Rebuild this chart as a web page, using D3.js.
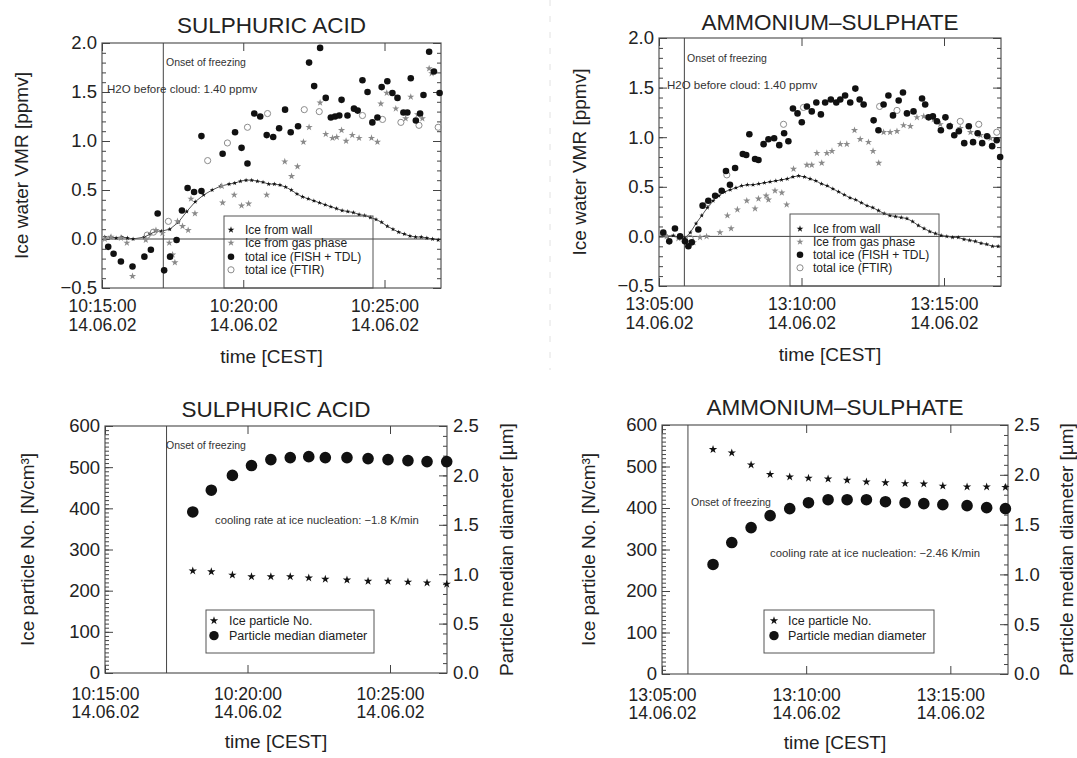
<!DOCTYPE html>
<html>
<head>
<meta charset="utf-8">
<script src="https://cdn.jsdelivr.net/npm/d3@7"></script>
<style>
  body { margin: 0; background: #fff; }
  svg text { font-family: "Liberation Sans", Arial, Helvetica, sans-serif; fill: #222; }
</style>
</head>
<body>
<svg id="chart" width="1077" height="758"></svg>
<script>
// ---------- data (times are minutes after the first axis tick) ----------

// sulphuric acid, ice water VMR
const saWallT = [0.1,0.3,0.5,0.7,0.9,1.1,1.5,1.7,1.9,2.1,2.4,2.7,3.0,3.3,3.6,3.9,4.2,4.5,4.7,4.9,5.1,5.3,5.5,5.7,5.9,6.1,6.3,6.5,6.7,6.9,7.1,7.3,7.5,7.7,7.9,8.1,8.3,8.5,8.7,8.9,9.1,9.3,9.5,9.7,9.9,10.1,10.3,10.5,10.7,10.9,11.1,11.3,11.5,11.7,11.9];
const saWallV = [0.02,0.02,0.01,0.02,0.01,0.00,0.02,0.05,0.08,0.08,0.10,0.17,0.28,0.38,0.45,0.50,0.54,0.56,0.57,0.59,0.60,0.60,0.59,0.58,0.56,0.56,0.55,0.53,0.50,0.46,0.43,0.41,0.39,0.37,0.35,0.33,0.31,0.29,0.28,0.27,0.25,0.24,0.22,0.20,0.17,0.13,0.10,0.07,0.05,0.03,0.02,0.02,0.01,0.00,-0.01];
const saGasT = [0.10,0.32,0.67,0.88,1.08,1.55,1.91,2.14,2.38,2.50,2.58,2.67,2.85,3.05,3.15,3.29,4.24,4.27,4.68,4.94,5.19,5.83,6.47,6.71,6.92,7.13,7.33,7.72,7.92,8.16,8.31,8.48,8.64,8.86,9.10,9.54,9.75,9.87,10.08,10.40,10.75,10.93,11.17,11.34,11.58,11.67];
const saGasV = [0.00,0.02,0.01,-0.04,-0.38,-0.01,0.09,0.06,-0.04,-0.16,-0.24,0.18,0.13,0.09,0.41,0.26,0.54,0.37,0.45,0.34,0.36,0.45,0.79,0.64,0.74,0.99,1.14,1.39,1.07,1.03,1.04,1.11,1.00,1.06,1.03,1.03,0.99,1.38,1.49,1.33,1.23,1.45,1.27,1.23,1.74,1.69];
const saTotalT = [0.22,0.41,0.67,1.08,1.50,1.73,1.97,2.20,2.41,2.64,2.83,3.03,3.26,3.52,3.52,4.27,4.71,4.94,5.15,5.39,5.60,5.83,6.06,6.27,6.48,6.68,6.94,7.33,7.51,7.72,7.92,8.10,8.25,8.40,8.48,8.69,8.92,9.05,9.22,9.40,9.57,9.75,9.90,10.10,10.28,10.46,10.67,10.81,10.93,11.11,11.26,11.38,11.58,11.75,11.95];
const saTotalV = [-0.08,-0.15,-0.23,-0.28,-0.18,-0.11,0.26,-0.32,-0.18,-0.01,0.29,0.52,0.48,0.49,1.05,0.87,1.09,0.93,0.77,1.28,1.25,1.06,1.04,1.13,1.32,1.09,1.15,1.80,1.56,1.95,1.44,1.24,1.25,1.26,1.42,1.26,1.33,1.31,1.62,1.50,1.19,1.24,1.55,1.61,1.49,1.44,1.29,1.29,1.64,1.21,1.28,1.47,1.91,1.71,1.49];
const saFtirT = [1.60,1.82,2.35,3.74,4.44,5.15,5.86,7.16,7.69,9.22,9.93,10.58,11.22,11.90];
const saFtirV = [0.04,0.07,0.18,0.80,0.98,1.14,1.28,1.32,1.30,1.26,1.22,1.19,1.16,1.14];

// ammonium sulphate, ice water VMR
const asWallT = [0.1,0.3,0.5,0.7,0.9,1.1,1.3,1.5,1.7,1.9,2.1,2.3,2.5,2.7,2.9,3.1,3.3,3.5,3.7,3.9,4.1,4.3,4.5,4.7,4.9,5.1,5.3,5.5,5.7,5.9,6.1,6.3,6.5,6.7,6.9,7.1,7.3,7.5,7.7,7.9,8.1,8.3,8.5,8.7,8.9,9.1,9.3,9.5,9.7,9.9,10.1,10.3,10.5,10.7,10.9,11.1,11.3,11.5,11.7,11.9];
const asWallV = [0.02,0.00,0.01,-0.01,-0.02,0.04,0.13,0.21,0.29,0.36,0.41,0.45,0.47,0.49,0.51,0.52,0.52,0.53,0.54,0.55,0.56,0.57,0.58,0.60,0.61,0.60,0.58,0.56,0.53,0.51,0.48,0.45,0.42,0.39,0.37,0.34,0.31,0.29,0.26,0.23,0.21,0.20,0.19,0.18,0.15,0.11,0.08,0.05,0.03,0.01,0.00,-0.01,-0.01,-0.03,-0.04,-0.05,-0.07,-0.08,-0.10,-0.10];
const asGasT = [0.27,0.68,1.21,1.44,1.67,2.14,2.40,2.53,2.75,3.08,3.37,3.49,3.76,3.84,4.07,4.31,4.48,4.72,5.19,5.36,5.54,5.71,5.89,6.07,6.36,6.59,6.86,7.06,7.35,7.51,7.71,7.88,8.11,8.35,8.58,8.82,9.05,9.29,9.64,9.87,10.22,10.57,10.93,11.28,11.63];
const asGasV = [0.00,-0.02,-0.06,-0.01,0.00,0.04,0.21,0.08,0.27,0.36,0.28,0.38,0.41,0.37,0.46,0.44,0.32,0.68,0.72,0.72,0.84,0.74,0.84,0.86,0.93,0.93,1.07,0.98,0.95,0.86,0.74,1.05,1.05,1.06,1.12,1.11,1.20,1.21,1.18,1.13,1.12,1.09,1.05,1.02,0.99];
const asTotalT = [0.15,0.36,0.56,0.74,0.91,1.03,1.15,1.38,1.53,1.73,1.97,2.20,2.35,2.49,2.67,2.94,3.06,3.17,3.37,3.49,3.67,3.84,4.04,4.22,4.39,4.54,4.70,4.86,5.01,5.19,5.36,5.52,5.68,5.83,6.03,6.22,6.36,6.53,6.71,6.89,7.04,7.18,7.53,7.70,7.88,8.05,8.21,8.41,8.56,8.70,8.93,9.23,9.34,9.46,9.61,9.75,9.89,10.05,10.20,10.36,10.52,10.71,10.87,11.02,11.18,11.34,11.51,11.69,11.85,11.97];
const asTotalV = [0.04,-0.05,0.08,0.00,-0.05,-0.10,-0.06,0.07,0.31,0.36,0.41,0.46,0.66,0.52,0.69,0.83,0.82,1.03,0.78,0.77,0.93,0.98,0.99,0.92,1.04,0.96,1.29,1.24,1.15,1.31,1.26,1.35,1.23,1.35,1.38,1.35,1.38,1.42,1.35,1.49,1.38,1.33,1.17,1.07,1.33,1.42,1.22,1.37,1.45,1.24,1.26,1.39,1.33,1.20,1.21,1.16,1.07,1.20,1.11,1.02,1.06,0.94,1.11,0.95,1.04,0.94,1.01,0.91,0.97,0.80];
const asFtirT = [1.09,1.72,2.38,4.37,5.07,7.74,8.35,10.57,11.22,11.85];
const asFtirV = [-0.02,0.34,0.62,1.13,1.30,1.31,1.27,1.16,1.13,1.05];

// particle number and median diameter
const saBottomT = [3.08,3.73,4.47,5.14,5.82,6.50,7.15,7.73,8.49,9.23,9.93,10.63,11.30,11.99];
const saNumber = [248,246,238,234,234,234,231,228,226,223,223,221,219,216];
const saDiameter = [1.63,1.85,2.00,2.10,2.16,2.18,2.19,2.18,2.18,2.17,2.16,2.15,2.14,2.14];
const asBottomT = [1.77,2.42,3.09,3.75,4.43,5.08,5.76,6.42,7.09,7.75,8.43,9.08,9.74,10.58,11.26,11.91];
const asNumber = [541,533,504,481,475,472,470,467,463,461,459,458,453,451,451,450];
const asDiameter = [1.10,1.32,1.47,1.59,1.66,1.72,1.75,1.75,1.75,1.73,1.72,1.71,1.70,1.69,1.67,1.66];

const vmrLegend = ["Ice from wall", "Ice from gas phase", "total ice (FISH + TDL)", "total ice (FTIR)"];
const psdLegend = ["Ice particle No.", "Particle median diameter"];

// ---------- helpers ----------
const svg = d3.select("#chart");
const fmtTime = d3.timeFormat("%H:%M:%S");
const fmtDate = d3.timeFormat("%d.%m.%y");
const clock = (h, m) => new Date(2002, 5, 14, h, m, 0);
const at = (start, min) => new Date(start.getTime() + min * 60000);
const TICK_FS = 18.5, LABEL_FS = 19;

function tidy(axisG) {
    axisG.select(".domain").remove();
    axisG.attr("color", "#444").attr("font-size", TICK_FS);
    return axisG;
}

function drawPanel(p) {
    const g = svg.append("g");
    const x = d3.scaleTime().domain([p.start, at(p.start, 12)]).range([p.x0, p.x1]);
    const y = d3.scaleLinear().domain(p.yDomain).range([p.y1, p.y0]);

    // frame
    g.append("rect")
        .attr("x", p.x0).attr("y", p.y0)
        .attr("width", p.x1 - p.x0).attr("height", p.y1 - p.y0)
        .attr("fill", "none").attr("stroke", "#555").attr("stroke-width", 1.2);

    // time axes (bottom with two line labels, top mirrored)
    const majorX = [0, 5, 10].map(m => at(p.start, m));
    const bottom = tidy(g.append("g").attr("transform", `translate(0,${p.y1})`)
        .call(d3.axisBottom(x).tickValues(majorX).tickSize(-8).tickFormat(fmtTime)));
    bottom.attr("font-size", 17.5);
    bottom.selectAll(".tick text").attr("dy", null).attr("y", null).text(null)
        .call(t => {
            t.append("tspan").attr("x", 0).attr("y", p.xLab[0]).text(d => fmtTime(d));
            t.append("tspan").attr("x", 0).attr("y", p.xLab[1]).text(d => fmtDate(d));
        });
    tidy(g.append("g").attr("transform", `translate(0,${p.y0})`)
        .call(d3.axisTop(x).tickValues(majorX).tickSize(-8).tickFormat("")));

    // left value axis
    tidy(g.append("g").attr("transform", `translate(${p.x0},0)`)
        .call(d3.axisLeft(y).tickValues(p.yMajor).tickSize(-8).tickPadding(5).tickFormat(p.yFormat)));
    tidy(g.append("g").attr("transform", `translate(${p.x0},0)`)
        .call(d3.axisLeft(y).tickValues(p.yMinor).tickSize(-4).tickFormat("")));

    let y2 = null;
    if (p.y2Domain) {
        y2 = d3.scaleLinear().domain(p.y2Domain).range([p.y1, p.y0]);
        tidy(g.append("g").attr("transform", `translate(${p.x1},0)`)
            .call(d3.axisRight(y2).tickValues(p.y2Major).tickSize(-8).tickPadding(6).tickFormat(d3.format(".1f"))));
        tidy(g.append("g").attr("transform", `translate(${p.x1},0)`)
            .call(d3.axisRight(y2).tickValues(p.y2Minor).tickSize(-4).tickFormat("")));
    } else {
        tidy(g.append("g").attr("transform", `translate(${p.x1},0)`)
            .call(d3.axisRight(y).tickValues(p.yMajor).tickSize(-8).tickFormat("")));
        tidy(g.append("g").attr("transform", `translate(${p.x1},0)`)
            .call(d3.axisRight(y).tickValues(p.yMinor).tickSize(-4).tickFormat("")));
    }

    // reference lines
    if (p.zeroLine) {
        g.append("line").attr("x1", p.x0).attr("x2", p.x1)
            .attr("y1", y(0)).attr("y2", y(0)).attr("stroke", "#444");
    }
    const xo = x(at(p.start, p.onset));
    g.append("line").attr("x1", xo).attr("x2", xo)
        .attr("y1", p.y0).attr("y2", p.y1).attr("stroke", "#444");

    // titles
    const cx = (p.x0 + p.x1) / 2;
    g.append("text").attr("x", cx).attr("y", p.titleY).attr("text-anchor", "middle")
        .attr("font-size", 22.5).text(p.title);
    g.append("text").attr("x", cx).attr("y", p.y1 + 75).attr("text-anchor", "middle")
        .attr("font-size", LABEL_FS).text("time [CEST]");
    g.append("text").attr("transform", `translate(${p.yLabelX},${(p.y0 + p.y1) / 2}) rotate(-90)`)
        .attr("text-anchor", "middle").attr("font-size", LABEL_FS).text(p.yLabel);
    if (p.y2Label) {
        g.append("text").attr("transform", `translate(${p.y2LabelX},${(p.y0 + p.y1) / 2}) rotate(-90)`)
            .attr("text-anchor", "middle").attr("font-size", LABEL_FS).text(p.y2Label);
    }

    // annotations
    p.notes.forEach(n => {
        g.append("text").attr("x", n.x).attr("y", n.y).attr("font-size", n.fs)
            .style("fill", "#333").text(n.text);
    });

    return { g, x, y, y2 };
}

function scatter(g, x, yScale, start, ts, vs, s) {
    g.append("g").selectAll("path")
        .data(ts.map((t, i) => [t, vs[i]]))
        .join("path")
        .attr("transform", d => `translate(${x(at(start, d[0]))},${yScale(d[1])})`)
        .attr("d", d3.symbol().type(s.type).size(s.size))
        .attr("fill", s.fill).attr("stroke", s.stroke || "none")
        .attr("stroke-width", s.sw || 1);
}

function wallCurve(g, x, y, start, ts, vs) {
    const pts = ts.map((t, i) => [t, vs[i]]);
    g.append("path").datum(pts)
        .attr("d", d3.line().x(d => x(at(start, d[0]))).y(d => y(d[1])))
        .attr("fill", "none").attr("stroke", "#555").attr("stroke-width", 1);
    scatter(g, x, y, start, ts, vs, WALL);
}

function legend(g, box, items) {
    g.append("rect").attr("x", box.x).attr("y", box.y).attr("width", box.w).attr("height", box.h)
        .attr("fill", "none").attr("stroke", "#555").attr("stroke-width", 1);
    items.forEach((it, i) => {
        const by = box.rows[i];
        g.append("path").attr("transform", `translate(${box.symX},${by - box.fs * 0.35})`)
            .attr("d", d3.symbol().type(it.s.type).size(it.s.size))
            .attr("fill", it.s.fill).attr("stroke", it.s.stroke || "none").attr("stroke-width", it.s.sw || 1);
        g.append("text").attr("x", box.textX).attr("y", by).attr("font-size", box.fs).text(it.label);
    });
}

// marker styles
const WALL = { type: d3.symbolStar, size: 7, fill: "#111" };
const GAS = { type: d3.symbolStar, size: 16, fill: "#8a8a8a" };
const TOTAL = { type: d3.symbolCircle, size: 34, fill: "#111" };
const FTIR = { type: d3.symbolCircle, size: 30, fill: "none", stroke: "#8c8c8c", sw: 1 };
const NUMBER = { type: d3.symbolStar, size: 22, fill: "#111" };
const DIAM = { type: d3.symbolCircle, size: 106, fill: "#111" };

const vmrMajor = [-0.5, 0, 0.5, 1.0, 1.5, 2.0];
const vmrMinor = d3.range(-5, 21).map(i => i / 10);

// faint page divider
svg.append("line").attr("x1", 550).attr("x2", 550).attr("y1", 0).attr("y2", 370)
    .attr("stroke", "#e2e2e2").attr("stroke-dasharray", "6,10");

// ---------- top left: sulphuric acid VMR ----------
{
    const start = clock(10, 15);
    const P = drawPanel({
        x0: 102, x1: 441, y0: 43, y1: 288, start, onset: 2.17, xLab: [24, 43],
        yDomain: [-0.5, 2.0], yMajor: vmrMajor, yMinor: vmrMinor, yFormat: d3.format(".1f"),
        zeroLine: true, title: "SULPHURIC ACID", titleY: 33,
        yLabel: "Ice water VMR [ppmv]", yLabelX: 28,
        notes: [
            { x: 166, y: 66, fs: 10.5, text: "Onset of freezing" },
            { x: 107, y: 93, fs: 11.5, text: "H2O before cloud: 1.40 ppmv" }
        ]
    });
    wallCurve(P.g, P.x, P.y, start, saWallT, saWallV);
    scatter(P.g, P.x, P.y, start, saGasT, saGasV, GAS);
    scatter(P.g, P.x, P.y, start, saFtirT, saFtirV, FTIR);
    scatter(P.g, P.x, P.y, start, saTotalT, saTotalV, TOTAL);
    legend(P.g, { x: 224, y: 216, w: 149, h: 72, symX: 231, textX: 245, fs: 12, rows: [234, 247, 261, 274] },
        [WALL, GAS, TOTAL, FTIR].map((s, i) => ({ s: i === 0 ? { ...s, size: 14 } : s, label: vmrLegend[i] })));
}

// ---------- top right: ammonium sulphate VMR ----------
{
    const start = clock(13, 5);
    const P = drawPanel({
        x0: 659, x1: 1001, y0: 38, y1: 286, start, onset: 0.89, xLab: [24, 43],
        yDomain: [-0.5, 2.0], yMajor: vmrMajor, yMinor: vmrMinor, yFormat: d3.format(".1f"),
        zeroLine: true, title: "AMMONIUM\u2013SULPHATE", titleY: 30,
        yLabel: "Ice water VMR [ppmv]", yLabelX: 586,
        notes: [
            { x: 687, y: 62, fs: 10.5, text: "Onset of freezing" },
            { x: 667, y: 89, fs: 11.5, text: "H2O before cloud: 1.40 ppmv" }
        ]
    });
    wallCurve(P.g, P.x, P.y, start, asWallT, asWallV);
    scatter(P.g, P.x, P.y, start, asGasT, asGasV, GAS);
    scatter(P.g, P.x, P.y, start, asFtirT, asFtirV, FTIR);
    scatter(P.g, P.x, P.y, start, asTotalT, asTotalV, TOTAL);
    legend(P.g, { x: 790, y: 214, w: 149, h: 72, symX: 800, textX: 813, fs: 12, rows: [233, 246, 259, 272] },
        [WALL, GAS, TOTAL, FTIR].map((s, i) => ({ s: i === 0 ? { ...s, size: 14 } : s, label: vmrLegend[i] })));
}

// ---------- bottom panels: number and diameter ----------
const numMajor = d3.range(0, 601, 100);
const numMinor = d3.range(0, 601, 10);
const diaMajor = [0, 0.5, 1.0, 1.5, 2.0, 2.5];
const diaMinor = d3.range(0, 26).map(i => i / 10);

{
    const start = clock(10, 15);
    const P = drawPanel({
        x0: 105, x1: 447, y0: 426, y1: 673, start, onset: 2.16, xLab: [27, 45],
        yDomain: [0, 600], yMajor: numMajor, yMinor: numMinor, yFormat: d3.format("d"),
        y2Domain: [0, 2.5], y2Major: diaMajor, y2Minor: diaMinor,
        title: "SULPHURIC ACID", titleY: 417,
        yLabel: "Ice particle No. [N/cm\u00b3]", yLabelX: 34,
        y2Label: "Particle median diameter [\u00b5m]", y2LabelX: 513,
        notes: [
            { x: 166, y: 449, fs: 10.5, text: "Onset of freezing" },
            { x: 215, y: 524, fs: 11.3, text: "cooling rate at ice nucleation: \u22121.8 K/min" }
        ]
    });
    scatter(P.g, P.x, P.y, start, saBottomT, saNumber, NUMBER);
    scatter(P.g, P.x, P.y2, start, saBottomT, saDiameter, DIAM);
    legend(P.g, { x: 206, y: 610, w: 168, h: 43, symX: 214, textX: 229, fs: 12.5, rows: [625, 640] },
        [{ s: NUMBER, label: psdLegend[0] }, { s: { ...DIAM, size: 70 }, label: psdLegend[1] }]);
}

{
    const start = clock(13, 5);
    const P = drawPanel({
        x0: 662, x1: 1008, y0: 425, y1: 674, start, onset: 0.90, xLab: [27, 45],
        yDomain: [0, 600], yMajor: numMajor, yMinor: numMinor, yFormat: d3.format("d"),
        y2Domain: [0, 2.5], y2Major: diaMajor, y2Minor: diaMinor,
        title: "AMMONIUM\u2013SULPHATE", titleY: 415,
        yLabel: "Ice particle No. [N/cm\u00b3]", yLabelX: 595,
        y2Label: "Particle median diameter [\u00b5m]", y2LabelX: 1073,
        notes: [
            { x: 691, y: 506, fs: 10.5, text: "Onset of freezing" },
            { x: 770, y: 557, fs: 11.3, text: "cooling rate at ice nucleation: \u22122.46 K/min" }
        ]
    });
    scatter(P.g, P.x, P.y, start, asBottomT, asNumber, NUMBER);
    scatter(P.g, P.x, P.y2, start, asBottomT, asDiameter, DIAM);
    legend(P.g, { x: 764, y: 610, w: 170, h: 43, symX: 774, textX: 788, fs: 12.5, rows: [625, 640] },
        [{ s: NUMBER, label: psdLegend[0] }, { s: { ...DIAM, size: 70 }, label: psdLegend[1] }]);
}
</script>
</body>
</html>
